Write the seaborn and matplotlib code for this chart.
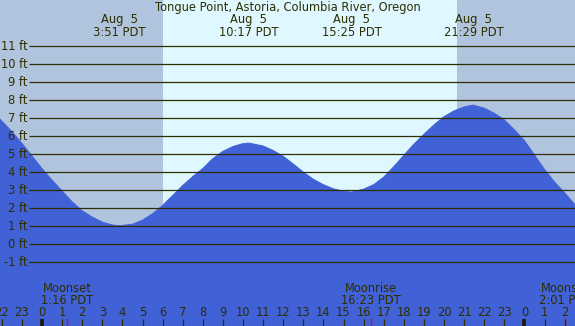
import matplotlib
matplotlib.use("Agg")
import matplotlib.pyplot as plt
import matplotlib.transforms as mtransforms
import seaborn as sns
import pandas as pd

# Tide heights (ft), hours relative to midnight Aug 5
HOURS = [-2.1, -1.5, -1.0, -0.5, 0.0, 0.5, 1.0, 1.5, 2.0, 2.5, 3.0, 3.5, 3.85,
         4.5, 5.0, 5.5, 6.0, 6.5, 7.0, 7.5, 8.0, 8.5, 9.0, 9.5, 10.0, 10.3,
         11.0, 11.5, 12.0, 12.5, 13.0, 13.5, 14.0, 14.5, 15.0, 15.4, 16.0,
         16.5, 17.0, 17.5, 18.0, 18.5, 19.0, 19.5, 20.0, 20.5, 21.0, 21.45,
         22.0, 22.5, 23.0, 23.5, 24.0, 24.5, 25.0, 25.5, 26.0, 26.55]
HEIGHTS = [6.95, 6.25, 5.6, 4.9, 4.2, 3.55, 2.95, 2.35, 1.85, 1.5, 1.22, 1.06, 1.02,
           1.1, 1.33, 1.68, 2.15, 2.7, 3.25, 3.75, 4.2, 4.75, 5.15, 5.42, 5.58, 5.61,
           5.45, 5.2, 4.88, 4.45, 4.0, 3.6, 3.3, 3.07, 2.93, 2.89, 3.05,
           3.3, 3.72, 4.3, 4.93, 5.55, 6.1, 6.62, 7.08, 7.4, 7.62, 7.72,
           7.55, 7.27, 6.9, 6.35, 5.75, 4.95, 4.15, 3.45, 2.85, 2.15]

# Extremes labelled along the top
EXTREME_HOURS = [3.85, 10.283, 15.417, 21.483]
EXTREME_LABELS = ["3:51 PDT", "10:17 PDT", "15:25 PDT", "21:29 PDT"]

# Moon events along the bottom
MOON_HOURS = [1.267, 16.383, 26.017]
MOON_NAMES = ["Moonset", "Moonrise", "Moonset"]
MOON_TIMES = ["1:16 PDT", "16:23 PDT", "2:01 PDT"]

SUNRISE = 6.02
SUNSET = 20.64
FT_LEVELS = list(range(-1, 12))
HOUR_TICKS = list(range(-2, 27))

TITLE = "Tongue Point, Astoria, Columbia River, Oregon"

NIGHT = "#b0c4de"
DAY = "#dff8ff"
WATER = "#4161d6"
INK = "#2e2e00"
FS = 8.3

W, H = 575, 326
fig = plt.figure(figsize=(W / 100, H / 100), dpi=100)
ax = fig.add_axes([0, 0, 1, 1])
ax.set_axis_off()

x0, x1 = -42 / 20.1, (W - 42) / 20.1
y0, y1 = (244 - H) / 18.0, 244 / 18.0
ax.set_xlim(x0, x1)
ax.set_ylim(y0, y1)

# day / night background
ax.axvspan(x0, SUNRISE, color=NIGHT, lw=0, zorder=0)
ax.axvspan(SUNRISE, SUNSET, color=DAY, lw=0, zorder=0)
ax.axvspan(SUNSET, x1, color=NIGHT, lw=0, zorder=0)

tide = pd.DataFrame({"hour": HOURS, "ft": HEIGHTS})
ax.fill_between(tide["hour"], tide["ft"], y0, color=WATER, lw=0, zorder=1)
sns.lineplot(data=tide, x="hour", y="ft", ax=ax, color=WATER, lw=0.6, zorder=1)

# height grid + labels
line_start = -0.65
for ft in FT_LEVELS:
    ax.plot([line_start, x1], [ft, ft], color=INK, lw=0.9, zorder=2,
            solid_capstyle="butt")
    ax.text(-0.72, ft, f"{ft} ft", ha="right", va="center", fontsize=FS,
            color=INK, zorder=3)

blend = mtransforms.blended_transform_factory(ax.transData, ax.transAxes)

def ypx(p):
    return 1 - p / H

ax.text(0.5, ypx(8), TITLE, transform=ax.transAxes, ha="center", va="center",
        fontsize=FS, color=INK)

for h, lab in zip(EXTREME_HOURS, EXTREME_LABELS):
    ax.text(h, ypx(19), "Aug  5", transform=blend, ha="center", va="center",
            fontsize=FS, color=INK)
    ax.text(h, ypx(32), lab, transform=blend, ha="center", va="center",
            fontsize=FS, color=INK)

for h, name, t in zip(MOON_HOURS, MOON_NAMES, MOON_TIMES):
    ax.text(h, ypx(288), name, transform=blend, ha="center", va="center",
            fontsize=FS, color=INK)
    ax.text(h, ypx(300), t, transform=blend, ha="center", va="center",
            fontsize=FS, color=INK)
    ax.plot([h, h], [ypx(318), 0], transform=blend, color="red", lw=0.9,
            zorder=4, solid_capstyle="butt")

# hour ticks along the bottom
for h in HOUR_TICKS:
    midnight = h % 24 == 0
    ax.plot([h, h], [ypx(319), 0], transform=blend, color="#1a1a00" if midnight else INK,
            lw=2.6 if midnight else 0.9, zorder=4, solid_capstyle="butt")
    ax.text(h, ypx(312), str(h % 24), transform=blend, ha="center", va="center",
            fontsize=FS, color=INK)

fig.savefig("out.png", dpi=100)
